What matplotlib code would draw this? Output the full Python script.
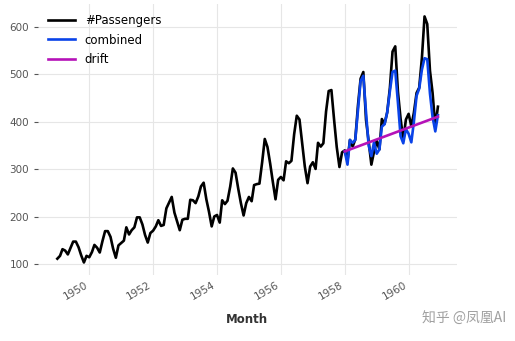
import numpy as np
import pandas as pd
import matplotlib
matplotlib.use("Agg")
import matplotlib.pyplot as plt
import matplotlib.dates as mdates

# monthly airline passengers, 1949-1960
passengers = [
    112, 118, 132, 129, 121, 135, 148, 148, 136, 119, 104, 118,
    115, 126, 141, 135, 125, 149, 170, 170, 158, 133, 114, 140,
    145, 150, 178, 163, 172, 178, 199, 199, 184, 162, 146, 166,
    171, 180, 193, 181, 183, 218, 230, 242, 209, 191, 172, 194,
    196, 196, 236, 235, 229, 243, 264, 272, 237, 211, 180, 201,
    204, 188, 235, 227, 234, 264, 302, 293, 259, 229, 203, 229,
    242, 233, 267, 269, 270, 315, 364, 347, 312, 274, 237, 278,
    284, 277, 317, 313, 318, 374, 413, 405, 355, 306, 271, 306,
    315, 301, 356, 348, 355, 422, 465, 467, 404, 347, 305, 336,
    340, 318, 362, 348, 363, 435, 491, 505, 404, 359, 310, 337,
    360, 342, 406, 396, 420, 472, 548, 559, 463, 407, 362, 405,
    417, 391, 419, 461, 472, 535, 622, 606, 508, 461, 390, 432,
]

# combined model forecast, 1958-1960
combined = [
    338, 310, 362, 356, 362, 425, 486, 497, 420, 350, 328, 357,
    333, 342, 390, 395, 420, 465, 505, 508, 440, 370, 355, 385,
    375, 357, 400, 455, 470, 510, 534, 532, 460, 410, 380, 414,
]

# drift forecast (straight line between its end points)
drift_dates = ["1958-01-01", "1960-12-01"]
drift_vals = [338, 411]

months = pd.date_range("1949-01-01", periods=len(passengers), freq="MS")
fc_months = pd.date_range("1958-01-01", periods=len(combined), freq="MS")

fig = plt.figure(figsize=(5.15, 3.41), dpi=100)
ax = fig.add_axes([0.0738, 0.194, 0.8132, 0.794])

ax.plot(months, passengers, color="black", lw=1.9, label="#Passengers")
ax.plot(fc_months, combined, color="#0a43e8", lw=1.9, label="combined")
ax.plot(pd.to_datetime(drift_dates), drift_vals, color="#b512b8", lw=1.9,
        label="drift")

for s in ax.spines.values():
    s.set_visible(False)
ax.grid(True, color="#e6e6e6", lw=0.8)
ax.set_axisbelow(True)

ax.set_ylim(78, 648)
ax.set_yticks([100, 200, 300, 400, 500, 600])
ax.set_xlim(pd.Timestamp("1948-05-25"), pd.Timestamp("1961-07-05"))
ax.xaxis.set_major_locator(mdates.YearLocator(2))
ax.xaxis.set_major_formatter(mdates.DateFormatter("%Y"))

ax.tick_params(axis="y", colors="#555555", labelsize=7.5, length=3, width=0.8)
ax.tick_params(axis="x", colors="#555555", labelsize=7.5, length=0)
for lab in ax.get_xticklabels():
    lab.set_rotation(30)
    lab.set_ha("right")

ax.set_xlabel("Month", fontsize=8.5, fontweight="bold", color="#333333",
              labelpad=8)

ax.legend(loc="upper left", frameon=False, fontsize=8.5, handlelength=2.3,
          labelspacing=0.55, borderaxespad=0.45)

fig.text(0.983, 0.064, "知乎 @凤凰AI", ha="right", va="center", fontsize=10,
         color="#a0a0a0", family=["Noto Sans CJK SC", "DejaVu Sans"])

fig.savefig("out.png", dpi=100)
